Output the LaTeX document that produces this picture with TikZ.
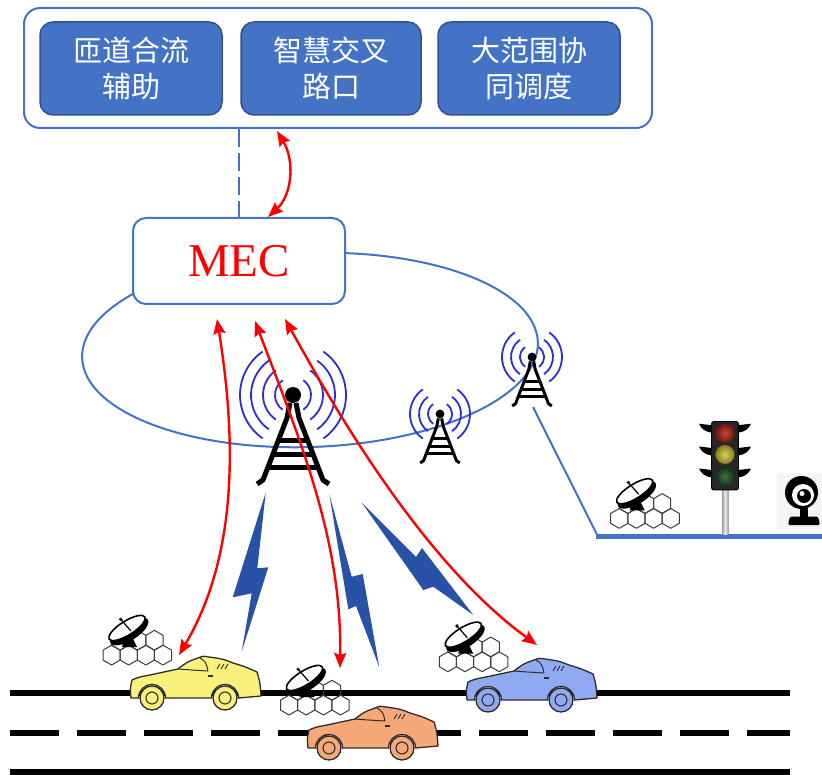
\documentclass[tikz,border=0pt]{standalone}
\usepackage{fontspec}
\setmainfont{Liberation Serif}
\newfontfamily\cjkfont{Noto Sans CJK SC}
\usetikzlibrary{arrows.meta}

\definecolor{linkblue}{RGB}{68,114,196}
\definecolor{boxedge}{RGB}{47,82,143}
\definecolor{waveblue}{RGB}{45,45,215}
\definecolor{boltblue}{RGB}{40,82,165}
\definecolor{carY}{RGB}{248,242,125}
\definecolor{carO}{RGB}{247,168,120}
\definecolor{carB}{RGB}{143,170,240}
\definecolor{carline}{RGB}{45,45,45}
\definecolor{hexline}{RGB}{60,60,60}
\definecolor{tlbody}{RGB}{40,40,40}

\begin{document}
\begin{tikzpicture}[x=1pt,y=-1pt,
  appbox/.style={draw=boxedge, line width=1.5pt, fill=linkblue,
    rounded corners=13pt, minimum width=#1, minimum height=93pt,
    text=white, font=\cjkfont\fontsize{29}{36}\selectfont,
    align=center, inner sep=0pt},
  bluelink/.style={draw=linkblue, line width=2pt},
  mecarrow/.style={draw=red, line width=2.4pt,
    {Stealth[length=15pt,width=12pt,inset=2pt]}-{Stealth[length=15pt,width=12pt,inset=2pt]}},
  wave/.style={draw=waveblue, line width=1.8pt},
  bolt/.style={fill=boltblue},
  pics/car/.style={code={
    \filldraw[fill=#1, draw=carline, line width=1.3pt, line join=round]
      (0,1) .. controls (-1,-8) .. (1,-17)
      .. controls (8,-20) .. (19,-22)
      -- (47,-28)
      .. controls (56,-35) .. (67,-39)
      .. controls (72,-41) .. (78,-40)
      .. controls (92,-38) .. (102,-34)
      .. controls (115,-30) .. (126,-25)
      .. controls (129,-15) .. (130,-1)
      -- (107.5,1) arc[start angle=0,end angle=180,radius=13.5pt]
      -- (34.5,1) arc[start angle=0,end angle=180,radius=13.5pt]
      -- cycle;
    \draw[carline, line width=1pt] (47,-28) .. controls (60,-27) .. (77,-26);
    \draw[carline, line width=1pt] (69,-39) .. controls (75,-35) .. (77,-26);
    \draw[carline, line width=0.9pt] (86,-28) -- (89,-33) (90,-28) -- (93,-33) (94,-28) -- (97,-33);
    \draw[carline, line width=1.6pt] (77,-21) -- (82,-21);
    \foreach \wx in {21,94} {
      \filldraw[fill=#1, draw=carline, line width=1.3pt] (\wx,1) circle[radius=12pt];
      \draw[carline, line width=1.1pt] (\wx,1) circle[radius=6pt];
    }
  }},
  pics/dishhex/.style={code={
    \foreach \cx/\cy in {8.57/-9.9,25.72/-9.9,42.87/-9.9,60.02/-9.9,17.15/-24.75,34.3/-24.75,51.45/-24.75}
      \draw[hexline, line width=1pt, line join=round] (\cx,\cy) +(0,-9.9) -- +(8.57,-4.95) -- +(8.57,4.95)
        -- +(0,9.9) -- +(-8.57,4.95) -- +(-8.57,-4.95) -- cycle;
    \fill (21,-26) -- (30,-26) -- (34,-18) -- (19,-18) -- cycle;
    \fill[rotate around={32:(24,-37)}] (24,-33) ellipse[x radius=22pt, y radius=9pt];
    \filldraw[fill=white, line width=1.6pt, rotate around={32:(24,-37)}] (24,-37) ellipse[x radius=21pt, y radius=7pt];
    \draw[line width=1.2pt] (17.7,-45.7) -- (28,-34);
    \fill (17.7,-45.7) circle[radius=1.8pt];
  }},
  pics/tower/.style={code={
    \fill (0,0) circle[radius=8pt];
    \draw[line join=round] (-3,8) -- (-6,23) -- (-30,85) -- (-36,89);
    \draw[line join=round] (3,8) -- (6,23) -- (30,85) -- (36,89);
    \draw (-14.5,45) -- (14.5,45) (-20,59) -- (20,59) (-25,72) -- (25,72);
  }},
  pics/waves/.style={code={
    \foreach \r in {#1} {
      \draw[wave] (125:\r pt) arc[start angle=125, end angle=235, radius=\r pt];
      \draw[wave] (-55:\r pt) arc[start angle=-55, end angle=55, radius=\r pt];
    }
  }}
]
\useasboundingbox (0,0) rectangle (822,775);

% road markings
\draw[line width=6pt] (10,692.5) -- (790,692.5);
\draw[line width=6pt, dash pattern=on 49pt off 18pt] (10,733) -- (790,733);
\draw[line width=6pt] (10,771.5) -- (790,771.5);

% coverage ellipse of the edge node
\draw[bluelink, rotate around={2:(310,350)}] (310,350) ellipse[x radius=228pt, y radius=97pt];

% wired link to the roadside units
\coordinate (t3) at (533,407);
\coordinate (rsu) at (598,536.5);
\coordinate (rsuend) at (822,536.5);
\draw[bluelink] (t3) -- (rsu);
\draw[draw=linkblue, line width=4.5pt] ([xshift=-2pt]rsu) -- (rsuend);

% application layer
\node[draw=linkblue, line width=2pt, rounded corners=16pt,
      minimum width=628pt, minimum height=120pt, fill=white] (top) at (338,68) {};
\node[appbox=182pt] (app1) at (131,68.5) {匝道合流\\辅助};
\node[appbox=180pt] (app2) at (331,68.5) {智慧交叉\\路口};
\node[appbox=182pt] (app3) at (529,68.5) {大范围协\\同调度};

% MEC server
\node[draw=linkblue, line width=2pt, fill=white, rounded corners=13pt,
      minimum width=212pt, minimum height=86pt, text=red,
      font=\fontsize{47}{50}\selectfont] (mec) at (239,261) {MEC};

\draw[draw=linkblue, line width=2pt, dash pattern=on 18pt off 6pt] (mec.north |- top.south) -- (mec.north);
\draw[mecarrow] ([xshift=-61pt,yshift=-2pt]top.south) .. controls +(18,30) and +(24,-22) .. ([xshift=29pt]mec.north);

% base stations
\pic at (293,395) {waves={18,30,42,53}};
\pic[line width=5pt] at (293,395) {tower};
\pic at (440,414) {waves={12,21,30}};
\pic[scale=0.55, line width=3pt] at (440,414) {tower};
\pic at (532,357) {waves={12,21,30}};
\pic[scale=0.55, line width=3pt] at (532,357) {tower};

% radio links
\fill[bolt] (265.7,492.7) -- (257.3,568.3) -- (268.3,567.3) -- (241.7,651.7) -- (251.7,593.3) -- (232.7,597.3) -- cycle;
\fill[bolt] (329.3,494) -- (351.7,576.7) -- (362.7,574) -- (379.3,667.3) -- (356,606) -- (348.3,609.3) -- cycle;
\fill[bolt] (361.7,502.7) -- (416,557) -- (422,548) -- (473.3,615) -- (433.3,586.7) -- (423.3,590) -- cycle;

% vehicles with on-board units
\pic at (103,665) {dishhex};
\pic at (280.5,715) {dishhex};
\pic at (439.3,671.7) {dishhex};
\pic at (131,697) {car=carY};
\pic at (308,747) {car=carO};
\pic at (467,699) {car=carB};

% roadside equipment
\pic at (610.7,528.3) {dishhex};
\path[left color=gray!75, right color=gray!75, middle color=gray!15] (722,489) rectangle (728.3,534);
\foreach \vy in {426.7,449.5,471.5} {
  \fill (711.7,\vy-1.5) -- (699,\vy-3) .. controls (701,\vy+2) and (705,\vy+5) .. (711.7,\vy+6) -- cycle;
  \fill (738.3,\vy-1.5) -- (751,\vy-3) .. controls (749,\vy+2) and (745,\vy+5) .. (738.3,\vy+6) -- cycle;
}
\node[draw=black, line width=1pt, fill=tlbody, rounded corners=2pt, minimum width=26.6pt,
      minimum height=68.3pt, inner sep=0pt] (light) at (725,455.8) {};
\shade[inner color={rgb,255:red,200;green,70;blue,55}, outer color={rgb,255:red,110;green,20;blue,15}] (725,433.3) circle[radius=9.5pt];
\shade[inner color={rgb,255:red,215;green,205;blue,95}, outer color={rgb,255:red,135;green,125;blue,30}] (725,454.5) circle[radius=9.5pt];
\shade[inner color={rgb,255:red,60;green,115;blue,65}, outer color={rgb,255:red,20;green,50;blue,25}] (725,476.5) circle[radius=9.5pt];

\fill[gray!8] (777,473) rectangle (822,530);
\fill (801.5,492.5) circle[radius=16.5pt];
\fill[white] (803,495) circle[radius=11pt];
\fill (804,496) circle[radius=7pt];
\fill[white] (802,493.5) circle[radius=2.5pt];
\fill (800,508) rectangle (808,517);
\fill[rounded corners=1.5pt] (788,525) -- (790,516.5) -- (818,516.5) -- (820,525) -- cycle;

% MEC to vehicle links
\coordinate (m1) at ([xshift=-22pt,yshift=-14pt]mec.south);
\coordinate (m2) at ([xshift=16pt,yshift=-16pt]mec.south);
\coordinate (m3) at ([xshift=46pt,yshift=-14pt]mec.south);
\coordinate (vy) at (179,655);
\coordinate (vo) at (340,668);
\coordinate (vb) at (537,645);
\draw[mecarrow] (m1) .. controls (238,450) and (235,560) .. (vy);
\draw[mecarrow] (m2) .. controls (300,440) and (342,540) .. (vo);
\draw[mecarrow] (m3) .. controls (330,400) and (420,560) .. (vb);
\end{tikzpicture}
\end{document}
